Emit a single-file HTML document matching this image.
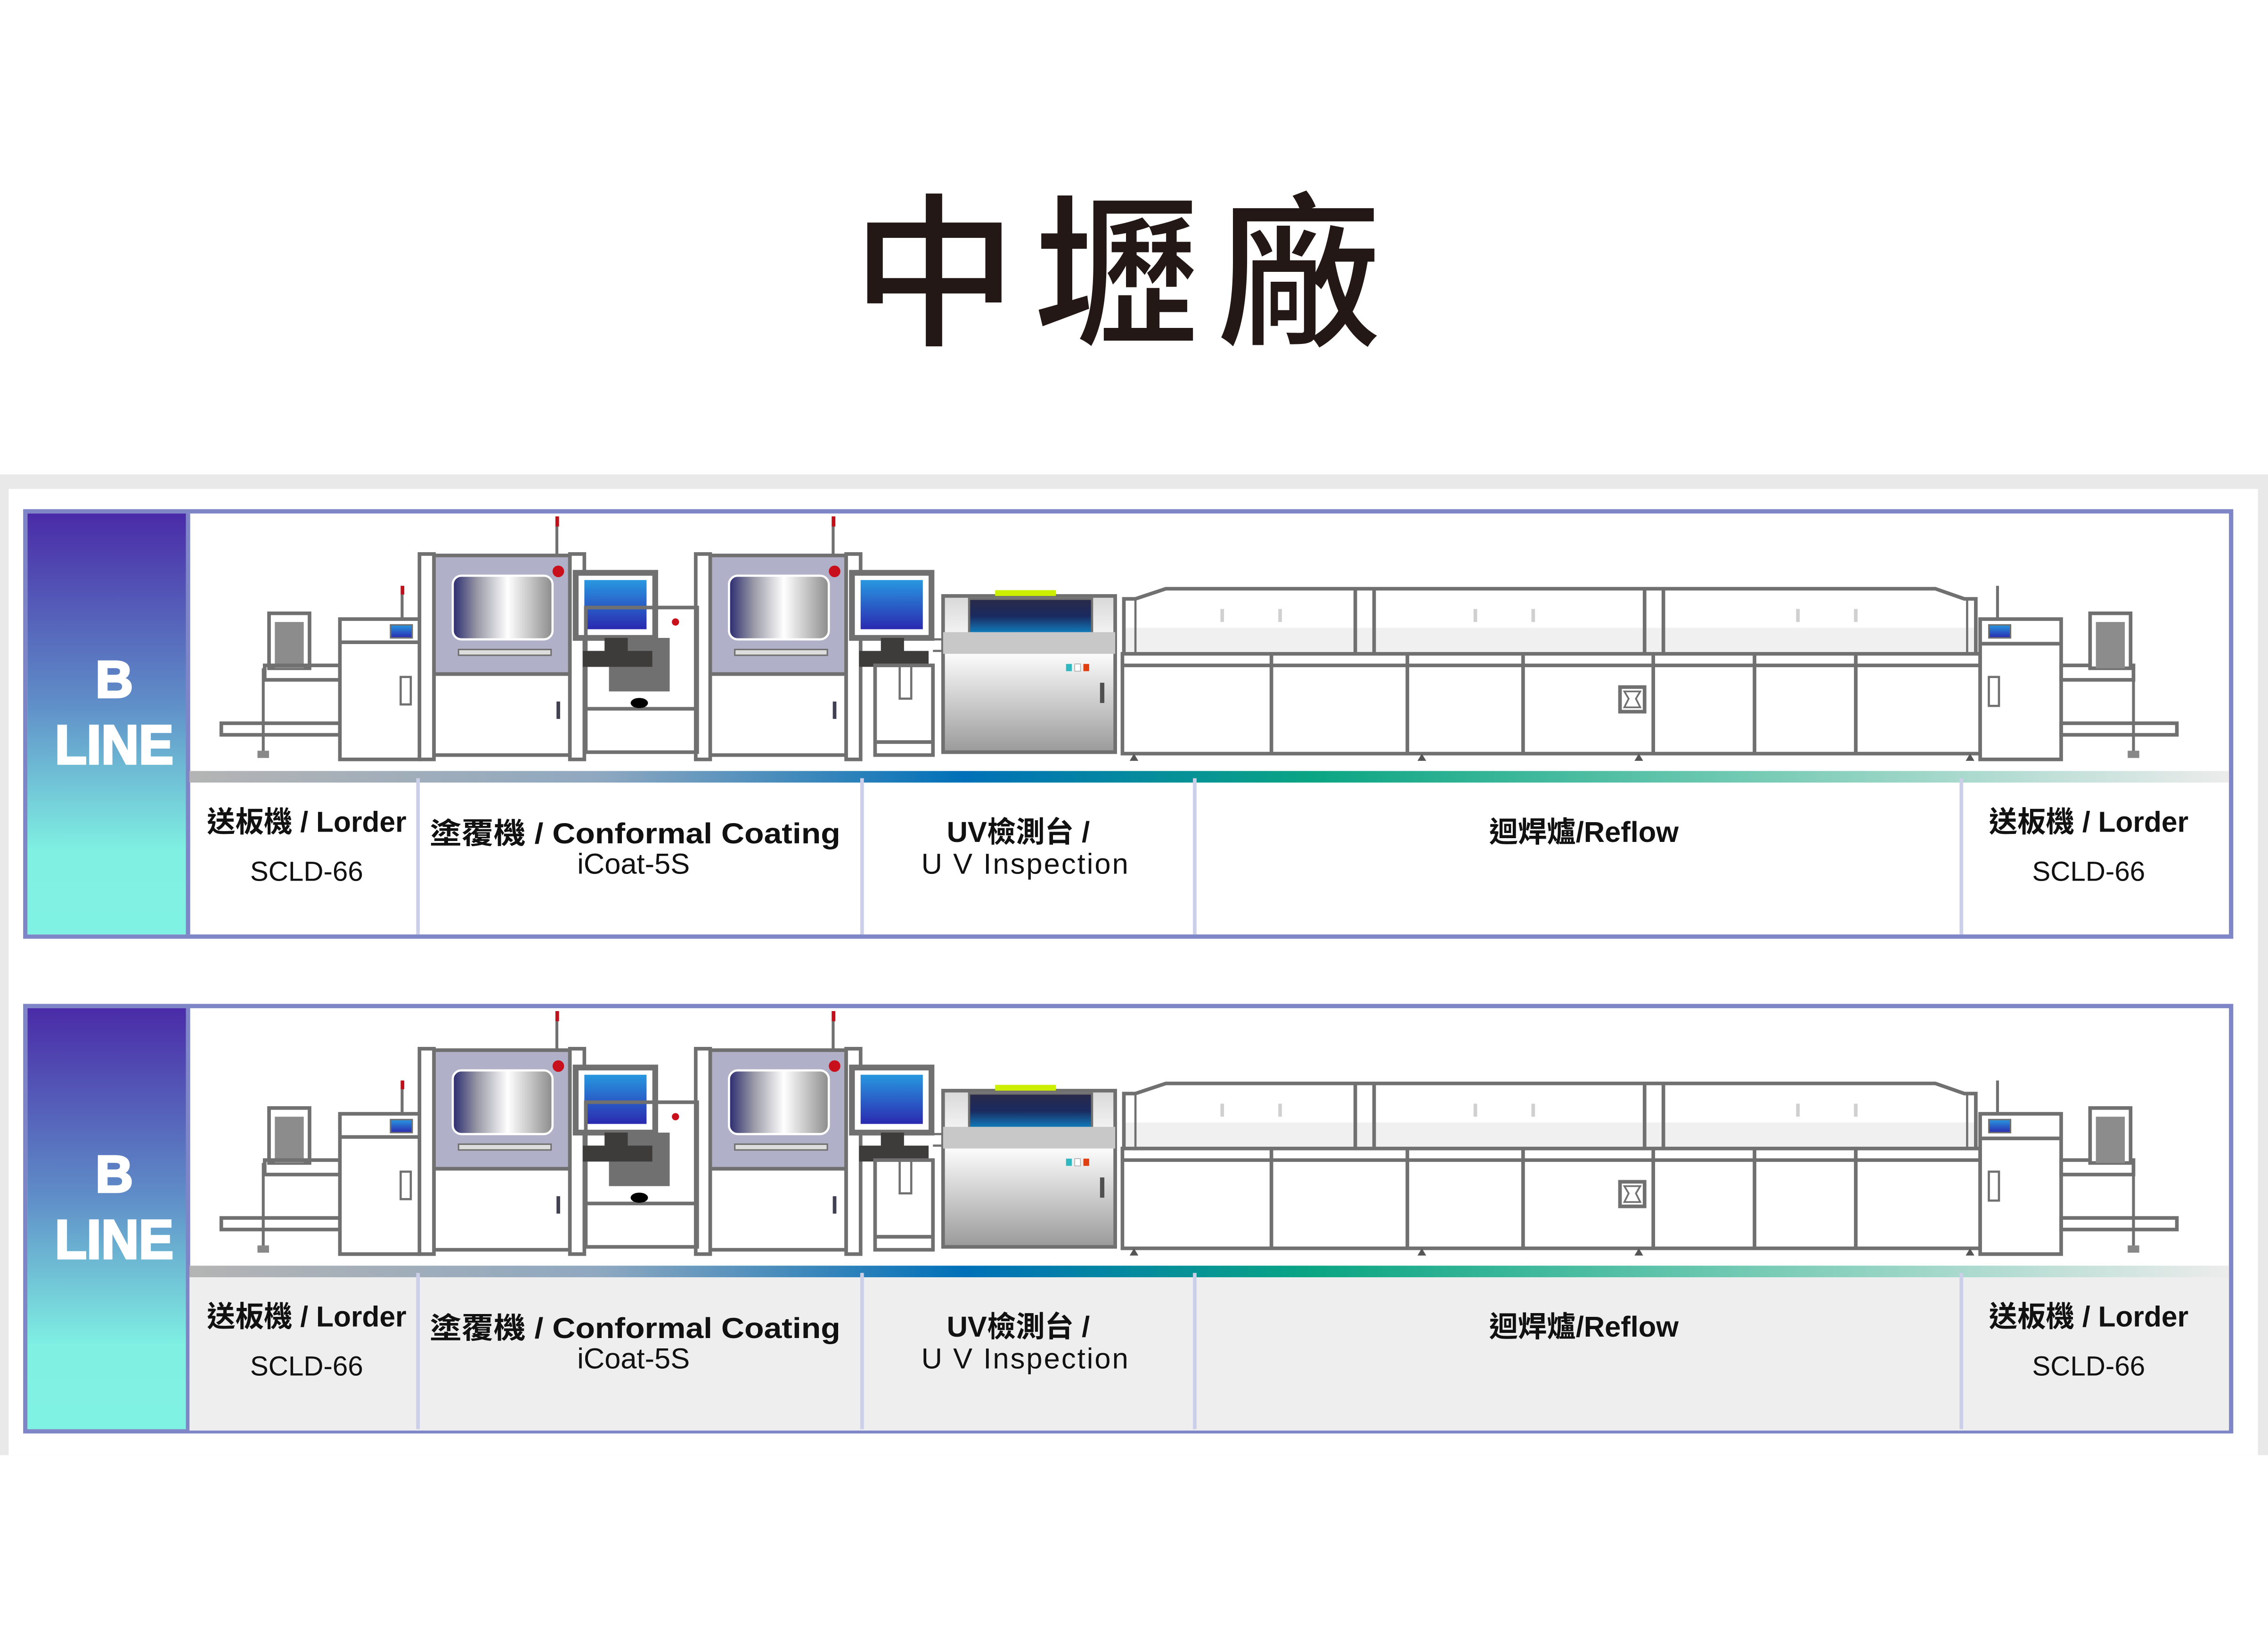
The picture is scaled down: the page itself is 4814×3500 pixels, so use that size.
<!DOCTYPE html>
<html><head><meta charset="utf-8"><style>
html,body{margin:0;padding:0;background:#fff;width:4814px;height:3500px;overflow:hidden}
svg{display:block}
</style></head><body>
<svg width="4814" height="3500" viewBox="0 0 1568 1140" preserveAspectRatio="none" xmlns="http://www.w3.org/2000/svg">
<defs>
<linearGradient id="lb" x1="0" y1="0" x2="0" y2="1">
<stop offset="0" stop-color="#4a2ba8"/><stop offset="0.45" stop-color="#5f8ec8"/><stop offset="0.8" stop-color="#7ff0e2"/><stop offset="1" stop-color="#80f2e4"/></linearGradient>
<linearGradient id="bar" x1="0" y1="0" x2="1" y2="0">
<stop offset="0" stop-color="#b4b4b4"/><stop offset="0.2" stop-color="#8fa8c0"/><stop offset="0.38" stop-color="#0070b8"/><stop offset="0.55" stop-color="#0aa583"/><stop offset="0.75" stop-color="#6cc8b0"/><stop offset="1" stop-color="#ececec"/></linearGradient>
<linearGradient id="win" x1="0" y1="0" x2="1" y2="0">
<stop offset="0" stop-color="#2a2a70"/><stop offset="0.25" stop-color="#9a9aa8"/><stop offset="0.55" stop-color="#ffffff"/><stop offset="1" stop-color="#8c8c8c"/></linearGradient>
<linearGradient id="scr" x1="0" y1="0" x2="0" y2="1">
<stop offset="0" stop-color="#2898e0"/><stop offset="1" stop-color="#2a2ab0"/></linearGradient>
<linearGradient id="uvw" x1="0" y1="0" x2="0" y2="1">
<stop offset="0" stop-color="#2a2a48"/><stop offset="0.5" stop-color="#1a2a60"/><stop offset="1" stop-color="#1080c0"/></linearGradient>
<linearGradient id="uvb" x1="0" y1="0" x2="0" y2="1">
<stop offset="0" stop-color="#d8d8d8"/><stop offset="0.35" stop-color="#ffffff"/><stop offset="1" stop-color="#9a9a9a"/></linearGradient>
<g id="mach" fill="none" stroke="#707070" stroke-width="2.5">
<rect x="153" y="500" width="82" height="8"/>
<line x1="182" y1="462" x2="182" y2="520" stroke-width="2"/>
<rect x="178" y="519" width="8" height="5" fill="#888" stroke="none"/>
<rect x="186" y="424" width="28" height="38" fill="#fff"/>
<rect x="190" y="430" width="20" height="32" fill="#8c8c8c" stroke="none"/>
<rect x="183" y="460" width="52" height="10"/>
<rect x="235" y="428" width="55" height="97" fill="#fff"/>
<line x1="235" y1="444" x2="290" y2="444"/>
<rect x="270" y="432" width="15" height="9" fill="url(#scr)" stroke-width="1"/>
<rect x="277" y="468" width="7" height="19" stroke-width="1.5"/>
<line x1="278" y1="405" x2="278" y2="428" stroke-width="2"/>
<rect x="277" y="405" width="2.5" height="6" fill="#c0101a" stroke="none"/>
<g id="coat">
<rect x="300" y="384" width="94" height="82" fill="#b0b0c8"/>
<rect x="313" y="398" width="69" height="44" rx="6" fill="url(#win)" stroke="#fff" stroke-width="1.5"/>
<circle cx="386" cy="395" r="4" fill="#c8101c" stroke="none"/>
<rect x="317" y="449" width="64" height="4" fill="#ddd" stroke-width="1"/>
<rect x="300" y="466" width="94" height="56" fill="#fff"/>
<line x1="386" y1="485" x2="386" y2="497" stroke="#404050" stroke-width="2.5"/>
<rect x="290" y="383" width="10" height="142" fill="#fff"/>
<rect x="394" y="383" width="10" height="142" fill="#fff"/>
<line x1="385" y1="357" x2="385" y2="383" stroke-width="2"/>
<rect x="384" y="357" width="2.5" height="7" fill="#c0101a" stroke="none"/>
<rect x="398" y="396" width="55" height="45" fill="#fff" stroke="#707070" stroke-width="4"/>
<rect x="404" y="401" width="43" height="34" fill="url(#scr)" stroke="none"/>
<rect x="418" y="441" width="16" height="10" fill="#3e3b3b" stroke="none"/>
<rect x="403" y="450" width="48" height="11" fill="#3e3b3b" stroke="none"/>
</g>
<use href="#coat" x="191"/>
<rect x="405" y="420" width="77" height="100" fill="none"/>
<line x1="405" y1="490" x2="482" y2="490"/>
<rect x="421" y="441" width="42" height="37" fill="#707070" stroke="none"/>
<rect x="418" y="441" width="16" height="10" fill="#3e3b3b" stroke="none"/>
<rect x="403" y="450" width="48" height="11" fill="#3e3b3b" stroke="none"/>
<ellipse cx="442" cy="486" rx="6" ry="3.5" fill="#000" stroke="none"/>
<circle cx="467" cy="430" r="2.5" fill="#c8101c" stroke="none"/>
<rect x="605" y="460" width="40" height="62"/>
<line x1="605" y1="513" x2="645" y2="513"/>
<rect x="622" y="460" width="8" height="23" stroke-width="1.5"/>
<rect x="652" y="412" width="119" height="108" fill="url(#uvb)"/>
<rect x="688" y="408" width="42" height="4" fill="#ccee00" stroke="none"/>
<rect x="670" y="414" width="85" height="24" fill="url(#uvw)" stroke-width="1.5"/>
<rect x="652" y="437" width="119" height="15" fill="#c8c8c8" stroke="none"/>
<rect x="737" y="459" width="4" height="5" fill="#30b8c0" stroke="none"/>
<rect x="743" y="459" width="4" height="5" fill="#fff" stroke="#aaa" stroke-width="0.5"/>
<rect x="749" y="459" width="4" height="5" fill="#e04010" stroke="none"/>
<line x1="762" y1="472" x2="762" y2="486" stroke="#505050" stroke-width="3"/>
<line x1="645" y1="442" x2="652" y2="442" stroke-width="1.5"/>
<line x1="645" y1="450" x2="652" y2="450" stroke-width="1.5"/>
<rect x="777" y="434" width="590" height="18" fill="#f0f0f0" stroke="none"/>
<polyline points="777,452 777,414 785,414 806,407 1338,407 1358,414 1366,414 1366,452" fill="none"/>
<line x1="785" y1="414" x2="785" y2="452" stroke-width="1.5"/>
<line x1="937" y1="407" x2="937" y2="452"/><line x1="950" y1="407" x2="950" y2="452"/>
<line x1="1137" y1="407" x2="1137" y2="452"/><line x1="1150" y1="407" x2="1150" y2="452"/>
<line x1="1360" y1="414" x2="1360" y2="452" stroke-width="1.5"/>
<g stroke="#d0d0d0" stroke-width="2.5">
<line x1="845" y1="421" x2="845" y2="430"/><line x1="885" y1="421" x2="885" y2="430"/>
<line x1="1020" y1="421" x2="1020" y2="430"/><line x1="1060" y1="421" x2="1060" y2="430"/>
<line x1="1243" y1="421" x2="1243" y2="430"/><line x1="1283" y1="421" x2="1283" y2="430"/>
</g>
<rect x="776" y="452" width="593" height="69" fill="#fff"/>
<line x1="776" y1="460" x2="1369" y2="460"/>
<line x1="879" y1="452" x2="879" y2="521"/><line x1="973" y1="452" x2="973" y2="521"/>
<line x1="1053" y1="452" x2="1053" y2="521"/><line x1="1143" y1="452" x2="1143" y2="521"/>
<line x1="1213" y1="452" x2="1213" y2="521"/><line x1="1283" y1="452" x2="1283" y2="521"/>
<rect x="1120" y="475" width="17" height="17"/>
<polygon points="1123,478 1134,478 1131,483 1134,489 1123,489 1126,483" stroke-width="1.2"/>
<g fill="#555" stroke="none">
<polygon points="784,521 781,526 787,526"/><polygon points="983,521 980,526 986,526"/>
<polygon points="1133,521 1130,526 1136,526"/><polygon points="1362,521 1359,526 1365,526"/>
</g>
<rect x="1369" y="428" width="56" height="97" fill="#fff"/>
<line x1="1369" y1="445" x2="1425" y2="445"/>
<rect x="1375" y="432" width="15" height="9" fill="url(#scr)" stroke-width="1"/>
<rect x="1375" y="468" width="7" height="20" stroke-width="1.5"/>
<line x1="1381" y1="405" x2="1381" y2="428" stroke-width="2"/>
<rect x="1425" y="460" width="50" height="10"/>
<rect x="1445" y="424" width="28" height="38" fill="#fff"/>
<rect x="1449" y="430" width="20" height="32" fill="#8c8c8c" stroke="none"/>
<rect x="1425" y="500" width="80" height="8"/>
<line x1="1475" y1="462" x2="1475" y2="520" stroke-width="2"/>
<rect x="1471" y="519" width="8" height="5" fill="#888" stroke="none"/>
</g>
</defs>

<text x="778" y="230" text-anchor="middle" font-family="'Noto Sans CJK TC','WenQuanYi Zen Hei',sans-serif" font-weight="500" font-size="114" letter-spacing="12" fill="#231815">中壢廠</text>

<rect x="0" y="328" width="1568" height="678" fill="#e8e9e8"/>
<rect x="6" y="338" width="1555" height="668" fill="#fff"/>

<g id="p1">
<rect x="17.5" y="353.5" width="1525" height="294" fill="#fff" stroke="#7f86c8" stroke-width="3"/>
<rect x="19" y="355" width="110" height="291" fill="url(#lb)"/>
<line x1="130" y1="355" x2="130" y2="646" stroke="#7f86c8" stroke-width="3"/>
<text x="79" y="482" text-anchor="middle" font-family="'Liberation Sans',sans-serif" font-weight="bold" font-size="36" fill="#fff" stroke="#fff" stroke-width="1.5">B</text>
<text x="79" y="528" text-anchor="middle" font-family="'Liberation Sans',sans-serif" font-weight="bold" font-size="38" fill="#fff" stroke="#fff" stroke-width="1.5" textLength="82" lengthAdjust="spacingAndGlyphs">LINE</text>
</g>
<use href="#mach"/>
<rect x="131" y="533" width="1410" height="8" fill="url(#bar)"/>
<g stroke="#cbcfe8" stroke-width="2.5">
<line x1="289" y1="538" x2="289" y2="646"/><line x1="596" y1="538" x2="596" y2="646"/>
<line x1="826" y1="538" x2="826" y2="646"/><line x1="1356" y1="538" x2="1356" y2="646"/>
</g>
<g font-family="'Liberation Sans','Noto Sans CJK TC',sans-serif" font-size="20" fill="#111" text-anchor="middle">
<text x="212" y="575" font-weight="bold" textLength="138" lengthAdjust="spacingAndGlyphs">送板機 / Lorder</text>
<text x="212" y="609" font-size="19">SCLD-66</text>
<text x="439" y="583" font-weight="bold" textLength="284" lengthAdjust="spacingAndGlyphs">塗覆機 / Conformal Coating</text>
<text x="438" y="604">iCoat-5S</text>
<text x="704" y="582" font-weight="bold">UV檢測台 /</text>
<text x="709" y="604" letter-spacing="1">U V Inspection</text>
<text x="1095" y="582" font-weight="bold">迴焊爐/Reflow</text>
<text x="1444" y="575" font-weight="bold" textLength="138" lengthAdjust="spacingAndGlyphs">送板機 / Lorder</text>
<text x="1444" y="609" font-size="19">SCLD-66</text>
</g>

<use href="#p1" y="342"/>
<rect x="131" y="882" width="1410" height="107" fill="#eeeeee"/>
<use href="#mach" y="342"/>
<rect x="131" y="875" width="1410" height="8" fill="url(#bar)"/>
<g stroke="#cbcfe8" stroke-width="2.5">
<line x1="289" y1="880" x2="289" y2="988"/><line x1="596" y1="880" x2="596" y2="988"/>
<line x1="826" y1="880" x2="826" y2="988"/><line x1="1356" y1="880" x2="1356" y2="988"/>
</g>
<g font-family="'Liberation Sans','Noto Sans CJK TC',sans-serif" font-size="20" fill="#111" text-anchor="middle">
<text x="212" y="917" font-weight="bold" textLength="138" lengthAdjust="spacingAndGlyphs">送板機 / Lorder</text>
<text x="212" y="951" font-size="19">SCLD-66</text>
<text x="439" y="925" font-weight="bold" textLength="284" lengthAdjust="spacingAndGlyphs">塗覆機 / Conformal Coating</text>
<text x="438" y="946">iCoat-5S</text>
<text x="704" y="924" font-weight="bold">UV檢測台 /</text>
<text x="709" y="946" letter-spacing="1">U V Inspection</text>
<text x="1095" y="924" font-weight="bold">迴焊爐/Reflow</text>
<text x="1444" y="917" font-weight="bold" textLength="138" lengthAdjust="spacingAndGlyphs">送板機 / Lorder</text>
<text x="1444" y="951" font-size="19">SCLD-66</text>
</g>
</svg>
</body></html>
